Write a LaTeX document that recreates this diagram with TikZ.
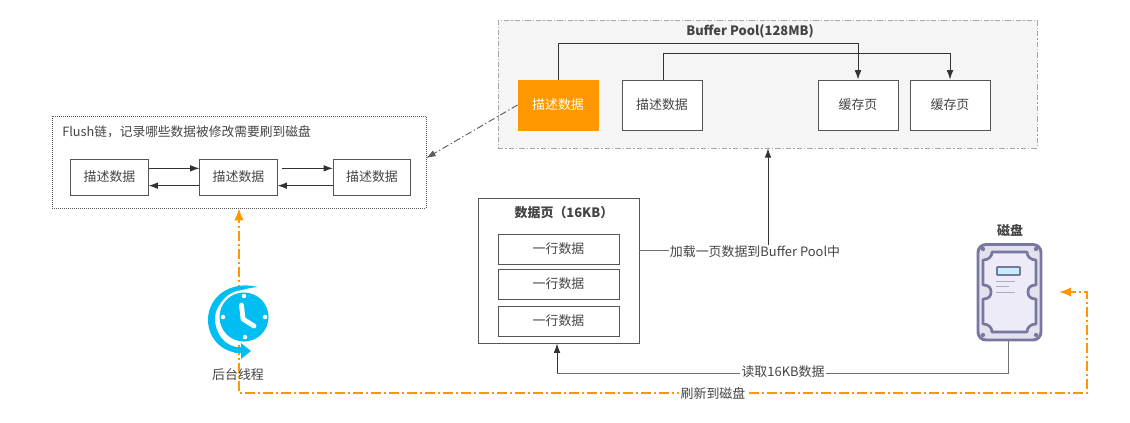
\documentclass[tikz,border=0pt]{standalone}
\usepackage{fontspec}
\setmainfont{Noto Sans CJK SC}
\usetikzlibrary{arrows.meta}
\definecolor{txt}{HTML}{444444}
\definecolor{orangeA}{HTML}{FF9800}
\definecolor{boxline}{HTML}{555555}
\definecolor{conn}{HTML}{333333}
\definecolor{clockblue}{HTML}{00BEF2}
\definecolor{diskline}{HTML}{77779F}
\definecolor{diskfill}{HTML}{E2E1EE}
\definecolor{diskin}{HTML}{ECEBF7}
\tikzset{
  x=0.75pt,y=-0.75pt,
  every node/.style={font=\fontsize{9.7pt}{11pt}\selectfont,text=txt,inner sep=0pt},
  cellbox/.style={draw=boxline,line width=0.7pt,fill=white,minimum width=60pt,minimum height=37.5pt,inner sep=0pt},
  rowbox/.style={draw=boxline,line width=0.7pt,fill=white,minimum width=90.75pt,minimum height=22.5pt},
  chainbox/.style={draw=boxline,line width=0.7pt,fill=white,minimum width=58pt,minimum height=27pt},
  conn/.style={draw=conn,line width=0.7pt,-{Latex[length=7pt,width=5pt]}},
  plainconn/.style={draw=conn!70,line width=0.7pt},
  orangeflow/.style={draw=orangeA,line width=1.1pt,dash pattern=on 7pt off 2.5pt on 1.5pt off 2.5pt,-{Latex[length=9pt,width=7pt]}},
  lbl/.style={fill=white,inner xsep=1pt,inner ysep=0.5pt},
}
\begin{document}
\begin{tikzpicture}
\useasboundingbox (0,0) rectangle (1130,422);
\fill[white] (0,0) rectangle (1130,422);

% Buffer pool
\node[draw=gray!70,fill=black!4,line width=0.5pt,dash pattern=on 4pt off 1.5pt on 1pt off 1.5pt,minimum width=404.25pt,minimum height=96pt] (pool) at (767.5,84) {};
\node[font=\fontsize{9.7pt}{11pt}\selectfont\bfseries] (pooltitle) at (750,31) {Buffer Pool(128MB)};
\node[cellbox,draw=orangeA,fill=orangeA,text=white] (d1) at (558,105) {描述数据};
\node[cellbox] (d2) at (662,105) {描述数据};
\node[cellbox] (c1) at (858,105) {缓存页};
\node[cellbox] (c2) at (950,105) {缓存页};
\coordinate (t1) at (558,43);
\coordinate (t2) at (663,53);
\draw[conn] (d1.north) -- (t1) -| (c1.north);
\draw[conn] (t2 |- d2.north) -- (t2) -| (c2.north);

% Flush chain
\node[draw=boxline,line width=0.5pt,densely dotted,minimum width=280.5pt,minimum height=69pt] (flush) at (239,162) {};
\node[anchor=west,font=\fontsize{9.55pt}{11pt}\selectfont] (flushtitle) at (62,132) {Flush链，记录哪些数据被修改需要刷到磁盘};
\node[chainbox] (f1) at (109.5,177) {描述数据};
\node[chainbox] (f2) at (238.5,177) {描述数据};
\node[chainbox] (f3) at (372,177) {描述数据};
\draw[conn] ([yshift=6.5pt]f1.east) -- ([yshift=6.5pt]f2.west);
\draw[conn] ([yshift=-6.5pt]f2.west) -- ([yshift=-6.5pt]f1.east);
\draw[conn] ([xshift=3pt,yshift=6.5pt]f2.east) -- ([yshift=6.5pt]f3.west);
\draw[conn] ([yshift=-6.5pt]f3.west) -- ([yshift=-6.5pt]f2.east);
\draw[conn,draw=conn!80,dash pattern=on 5pt off 2pt on 1pt off 2pt] (d1.west) -- ([yshift=3pt]flush.east);

% Data page
\node[draw=boxline,line width=0.7pt,fill=white,minimum width=120.75pt,minimum height=108.75pt] (page) at (558.5,270.5) {};
\node[font=\fontsize{9.7pt}{11pt}\selectfont\bfseries] (pagetitle) at (564,213) {数据页（16KB）};
\node[rowbox] (r1) at (558.5,249) {一行数据};
\node[rowbox] (r2) at (558.5,284) {一行数据};
\node[rowbox] (r3) at (558.5,321) {一行数据};

% Disk icon
\node[minimum width=48.75pt,minimum height=73.5pt] (disk) at (1009.5,292) {};
\node[font=\fontsize{9.7pt}{11pt}\selectfont\bfseries] (disktitle) at (1010,230) {磁盘};
\draw[diskline,fill=diskfill,line width=2.2pt,rounded corners=6pt] (978,244.5) rectangle (1041,340);
\draw[diskline,fill=diskin,line width=2pt,line join=round]
  (992,252) -- (1027,252)
  .. controls (1027,257) and (1031,260) .. (1036,260) -- (1036,285)
  .. controls (1030,285) and (1028,288) .. (1028,292)
  .. controls (1028,296) and (1030,299) .. (1036,299) -- (1036,324)
  .. controls (1031,324) and (1027,327) .. (1027,332) -- (992,332)
  .. controls (992,327) and (988,324) .. (983,324) -- (983,299)
  .. controls (989,299) and (991,296) .. (991,292)
  .. controls (991,288) and (989,285) .. (983,285) -- (983,260)
  .. controls (988,260) and (992,257) .. (992,252) -- cycle;
\fill[diskline] (983,249) circle[radius=1.6pt] (1036,249) circle[radius=1.6pt] (983,335) circle[radius=1.6pt] (1036,335) circle[radius=1.6pt];
\draw[diskline,fill=cyan!22,line width=1.4pt,rounded corners=0.5pt] (997,267) rectangle (1020,275);
\draw[diskline!60,line width=0.7pt] (996,281) -- (1015,281) (996,286.5) -- (1009,286.5) (996,292) -- (1015,292);

% Connectors
\coordinate (loadstart) at (639,250);
\coordinate (loadturn) at (768,250);
\draw[plainconn] (loadstart) -- (loadturn);
\draw[conn] (loadturn) -- (pool.south -| loadturn);
\node[lbl] (loadlbl) at (755,252) {加载一页数据到Buffer Pool中};

\coordinate (readturn) at (1008,373);
\coordinate (readend) at (557,373);
\draw[plainconn] (disk.south -| readturn) -- (readturn) -- (readend);
\draw[conn] (readend) -- (page.south -| readend);
\node[lbl] (readlbl) at (783,372) {读取16KB数据};

% Clock node (drawing follows the connectors)
\node[circle,minimum size=37.5pt] (clock) at (240,320) {};
\coordinate (orbl) at (239,393);
\coordinate (orbr) at (1087,393);
\coordinate (ortr) at (1087,292);
\coordinate (orend) at (1059,292);
\draw[orangeflow] (clock.north -| orbl) -- (flush.south -| orbl);
\draw[orangeflow] (clock.south -| orbl) -- (orbl) -- (orbr) -- (ortr) -- (orend);
\node[lbl] (flushlbl) at (713,394) {刷新到磁盘};

% Clock drawing
\fill[clockblue] (258,287) .. controls (230,280) and (208,297) .. (208,320)
  .. controls (208,338) and (222,353) .. (241,353) -- (241,347.5)
  .. controls (226,347.5) and (215,335) .. (215,318)
  .. controls (215,303) and (232,289) .. (258,287) -- cycle;
\fill[white] (244,317) circle[radius=20.2pt];
\fill[clockblue] (244,317) circle[radius=18.4pt];
\fill[clockblue] (234,347) -- (241,347.5) -- (241,343) -- (251,351) -- (241,359) -- (241,353) -- (234,352.5) -- cycle;
\fill[white] (244,296) circle[radius=1.7pt] (265,317) circle[radius=1.7pt] (245,337) circle[radius=1.7pt] (223,317) circle[radius=1.7pt];
\draw[white,line width=3.6pt,line cap=round,line join=round] (241.5,305) -- (243,319) -- (254,326);
\node (clocktext) at (238,375) {后台线程};
\end{tikzpicture}
\end{document}
